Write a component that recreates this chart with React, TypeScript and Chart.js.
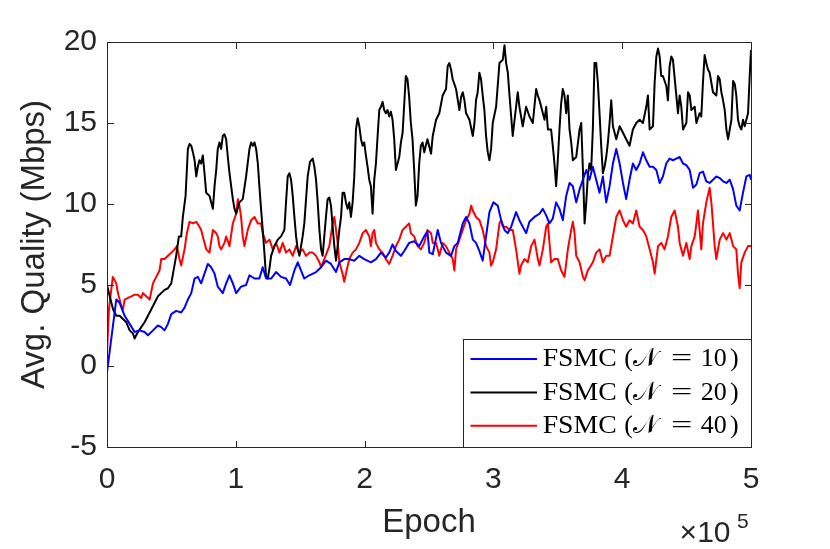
import React, { useEffect, useRef } from "react";
import { Chart, registerables } from "chart.js";

Chart.register(...registerables);

// ---- data: [epoch in thousands, avg. quality in Mbps] ----
const blueSeries: [number, number][] = [
  [0, -0.4], [7.2, 4.1], [9.8, 3.9], [13.7, 3.1], [17.6, 2.6], [21.4, 2.1], [25.3, 2.2], [29.2, 2.1], [31.8, 1.9],
  [35.7, 2.2], [39.5, 2.5], [42.1, 2.4], [44.7, 2.2], [47.3, 2.6], [49.9, 3.2], [53.7, 3.4], [57.6, 3.3], [60.2, 3.6],
  [62.8, 4.1], [65.4, 4.5], [68.0, 5.4], [70.5, 5.5], [73.1, 5.1], [75.7, 5.7], [78.3, 6.3], [80.9, 6.1], [83.5, 5.7],
  [86.0, 4.9], [89.9, 4.5], [92.5, 5.1], [95.1, 5.6], [97.7, 5.1], [100.3, 4.5], [104.1, 4.9], [108.0, 5.0], [110.6, 5.6],
  [114.5, 5.4], [118.3, 5.4], [120.9, 6.1], [123.5, 5.4], [127.4, 5.4], [131.3, 5.8], [135.1, 5.5], [139.0, 5.4],
  [142.1, 5.0], [145.5, 5.9], [148.1, 6.4], [150.6, 5.9], [153.2, 5.4], [157.1, 5.6], [162.3, 5.8], [166.2, 6.1],
  [170.0, 6.5], [173.9, 6.3], [177.8, 5.8], [180.4, 6.4], [184.2, 6.6], [188.1, 6.6], [192.0, 6.5], [195.9, 6.8],
  [199.7, 6.6], [204.9, 6.4], [208.8, 6.6], [212.7, 7.0], [216.5, 6.7], [219.1, 7.0], [221.7, 7.5], [224.3, 7.1],
  [228.2, 6.8], [230.8, 7.1], [234.6, 7.6], [238.5, 7.7], [242.4, 7.4], [246.3, 8.0], [248.8, 8.3], [250.3, 7.0],
  [252.9, 6.9], [256.8, 8.4], [259.3, 7.6], [263.2, 7.0], [267.1, 6.8], [269.7, 7.4], [272.3, 7.6], [276.2, 8.8],
  [278.8, 9.2], [281.4, 8.8], [284.0, 7.8], [286.5, 7.6], [289.1, 7.1], [291.7, 6.5], [294.3, 8.0], [296.9, 9.5],
  [300.0, 10.1], [303.4, 9.9], [306.0, 9.0], [308.6, 8.4], [311.2, 8.2], [313.8, 8.6], [317.6, 9.5], [320.2, 9.0],
  [322.8, 8.6], [325.4, 8.2], [328.0, 8.9], [331.9, 9.2], [335.8, 9.4], [338.4, 9.7], [341.0, 9.3], [343.5, 8.8],
  [346.1, 9.1], [348.7, 10.1], [351.3, 9.7], [353.9, 9.0], [356.5, 10.5], [359.1, 11.3], [361.7, 11.1], [364.3, 10.1],
  [366.9, 10.9], [369.5, 11.5], [372.1, 12.1], [374.6, 11.5], [377.2, 12.3], [379.8, 11.5], [382.4, 10.7], [385.0, 11.7],
  [387.6, 10.1], [390.2, 11.1], [392.8, 12.5], [395.4, 13.4], [398.0, 12.5], [400.6, 11.3], [403.1, 10.3], [405.7, 11.5],
  [408.3, 12.5], [410.9, 12.1], [413.5, 12.5], [416.1, 13.2], [418.7, 12.7], [421.3, 12.3], [423.9, 12.3], [426.5, 12.1],
  [429.1, 11.3], [431.6, 11.7], [434.2, 12.5], [436.8, 12.8], [439.4, 12.7], [442.0, 12.8], [444.6, 12.9], [447.2, 12.5],
  [449.8, 12.4], [452.4, 12.1], [455.0, 11.0], [457.6, 11.2], [460.1, 11.9], [462.7, 12.0], [465.3, 11.4], [467.9, 11.3],
  [470.5, 11.5], [473.1, 11.7], [475.7, 11.6], [478.3, 11.4], [480.9, 11.3], [483.5, 11.5], [486.1, 10.9], [488.6, 9.9],
  [491.2, 9.6], [493.8, 10.7], [496.4, 11.7], [499.0, 11.8], [500.0, 11.5],
];

const blackSeries: [number, number][] = [
  [0, 5.0], [2.1, 4.3], [4.7, 3.5], [7.2, 3.1], [9.8, 3.1], [12.4, 2.9], [15.0, 2.7], [17.6, 2.2], [20.2, 2.0], [21.4, 1.7],
  [24.0, 2.1], [26.6, 2.4], [29.2, 2.7], [31.8, 3.1], [34.4, 3.5], [37.0, 3.9], [39.5, 4.3], [42.1, 4.5], [44.7, 4.7],
  [47.3, 4.8], [49.9, 5.1], [51.7, 5.9], [53.7, 6.8], [55.8, 8.0], [57.6, 8.0], [58.9, 9.2], [61.0, 10.5], [62.8, 13.4],
  [64.1, 13.7], [65.4, 13.6], [66.7, 13.2], [68.0, 12.7], [69.3, 11.7], [70.5, 12.3], [71.8, 12.7], [73.1, 12.5],
  [74.4, 13.0], [75.7, 11.9], [77.0, 10.7], [79.6, 10.5], [82.2, 9.7], [83.5, 11.1], [84.8, 12.1], [86.0, 13.4],
  [87.3, 13.8], [88.6, 13.4], [89.9, 14.2], [91.2, 14.3], [92.5, 14.0], [93.8, 12.9], [95.1, 11.9], [96.4, 11.1],
  [97.7, 10.3], [99.0, 9.7], [100.3, 9.4], [102.8, 10.1], [105.4, 10.3], [108.0, 11.7], [110.6, 13.4], [111.9, 13.8],
  [113.2, 13.6], [114.5, 13.8], [115.8, 13.4], [117.1, 12.5], [118.3, 11.1], [119.6, 9.7], [120.9, 8.4], [122.2, 7.0],
  [123.5, 5.5], [124.8, 5.4], [126.1, 6.0], [127.4, 6.8], [130.0, 7.4], [132.6, 7.8], [135.1, 8.0], [137.7, 8.4],
  [139.0, 10.1], [140.3, 11.7], [141.6, 11.9], [142.9, 11.5], [144.2, 10.5], [145.5, 9.2], [146.8, 8.0], [148.1, 7.2],
  [149.4, 6.8], [151.9, 8.0], [153.2, 8.8], [155.8, 11.7], [157.6, 12.6], [159.7, 12.8], [161.0, 12.3], [162.3, 11.5],
  [163.6, 10.1], [164.9, 8.4], [166.2, 7.2], [167.4, 6.8], [168.7, 8.0], [170.0, 9.2], [171.3, 10.3], [172.6, 10.4],
  [173.9, 9.9], [175.2, 8.6], [176.5, 7.4], [177.8, 6.5], [179.1, 7.4], [180.4, 8.4], [181.7, 9.2], [182.9, 10.7],
  [184.2, 10.7], [185.5, 10.1], [186.8, 9.7], [188.1, 10.1], [189.4, 9.2], [190.7, 10.1], [192.0, 11.7], [193.3, 14.6],
  [194.6, 15.3], [195.9, 14.8], [197.2, 14.0], [198.5, 13.6], [199.7, 13.8], [201.0, 13.0], [202.3, 12.3], [203.6, 11.5],
  [204.9, 11.1], [206.2, 9.4], [207.5, 11.5], [208.8, 12.5], [210.1, 14.2], [211.4, 15.8], [212.7, 16.0], [214.0, 16.3],
  [215.2, 15.8], [216.5, 15.6], [217.8, 15.8], [219.1, 15.4], [220.4, 15.7], [221.7, 15.2], [223.0, 14.0], [224.3, 12.1],
  [225.6, 12.5], [226.9, 12.9], [228.2, 13.8], [229.5, 14.4], [230.8, 16.2], [232.0, 17.9], [233.3, 17.7], [234.6, 16.6],
  [235.9, 15.0], [237.2, 14.0], [238.5, 12.1], [239.8, 9.9], [241.1, 10.5], [242.4, 12.5], [243.7, 13.6], [245.0, 13.8],
  [246.3, 13.2], [247.5, 13.6], [248.8, 14.0], [251.6, 13.1], [252.9, 14.2], [255.5, 15.2], [258.0, 15.6], [260.6, 16.7],
  [263.2, 17.1], [264.5, 18.5], [265.8, 18.7], [267.1, 18.3], [268.4, 17.7], [271.0, 17.1], [273.6, 15.8], [274.9, 16.6],
  [276.2, 16.9], [277.5, 16.4], [278.8, 15.6], [280.1, 15.4], [281.4, 15.2], [284.0, 14.2], [285.3, 15.0], [286.5, 16.4],
  [287.8, 16.9], [289.1, 18.1], [290.4, 17.7], [291.7, 16.7], [293.0, 15.8], [294.3, 14.2], [295.6, 13.2], [296.9, 12.7],
  [298.2, 13.4], [299.5, 15.0], [302.1, 16.0], [304.7, 18.7], [307.3, 18.9], [308.6, 19.8], [309.9, 18.7], [311.2, 18.1],
  [312.5, 16.7], [313.8, 15.4], [315.0, 14.2], [317.6, 16.0], [318.9, 16.9], [320.2, 16.0], [321.5, 15.4], [322.8, 14.8],
  [325.4, 16.0], [328.0, 15.4], [330.6, 15.0], [333.2, 17.1], [334.5, 16.7], [335.8, 16.4], [338.4, 15.6], [339.7, 15.2],
  [341.0, 16.0], [342.3, 14.6], [344.8, 14.6], [346.1, 13.6], [347.4, 12.5], [348.7, 11.1], [350.0, 12.7], [351.3, 14.6],
  [352.6, 16.2], [353.9, 17.1], [355.2, 16.7], [356.5, 15.6], [357.8, 16.7], [359.1, 14.6], [360.4, 13.8], [361.7, 12.7],
  [364.3, 12.9], [366.9, 14.6], [368.2, 15.0], [369.5, 12.1], [370.8, 8.8], [372.1, 10.1], [373.3, 11.7], [374.6, 12.5],
  [375.9, 12.1], [377.2, 14.6], [378.5, 18.7], [379.8, 18.7], [381.1, 17.5], [382.4, 15.6], [383.7, 13.6], [385.0, 11.9],
  [386.3, 12.3], [387.6, 12.9], [388.9, 13.8], [390.2, 15.0], [391.5, 16.4], [392.8, 14.8], [395.4, 14.0], [398.0, 14.8],
  [400.6, 14.4], [403.1, 14.0], [405.7, 13.6], [408.3, 14.6], [410.9, 15.0], [413.5, 15.2], [416.1, 15.0], [418.7, 16.0],
  [420.0, 16.7], [421.3, 14.6], [423.9, 14.8], [425.2, 17.5], [426.5, 19.1], [427.8, 19.6], [429.1, 19.1], [430.3, 17.9],
  [431.6, 17.9], [434.2, 17.3], [435.5, 16.4], [436.8, 18.5], [438.1, 19.1], [439.4, 18.9], [442.0, 16.7], [443.3, 15.6],
  [444.6, 16.7], [445.9, 16.0], [447.2, 14.6], [449.8, 15.0], [451.1, 16.9], [452.4, 16.7], [453.7, 15.8], [456.3, 16.0],
  [457.6, 15.0], [460.1, 15.6], [461.4, 15.4], [462.7, 17.5], [464.0, 19.2], [465.3, 18.7], [466.6, 18.3], [467.9, 18.1],
  [470.5, 16.9], [473.1, 16.7], [474.4, 17.9], [475.7, 17.7], [477.0, 16.9], [478.3, 16.4], [479.6, 15.8], [480.9, 14.6],
  [482.2, 14.0], [483.5, 14.6], [484.8, 15.2], [486.1, 17.6], [487.4, 17.4], [488.6, 16.7], [489.9, 15.2], [491.2, 14.8],
  [492.5, 14.6], [493.8, 15.2], [495.1, 14.8], [497.7, 15.6], [499.0, 17.9], [500.0, 19.5],
];

const redSeries: [number, number][] = [
  [0, 0.8], [1.5, 3.5], [4.5, 5.5], [7.2, 5.1], [8.5, 4.5], [9.8, 4.1], [11.1, 3.7], [12.4, 3.5], [13.7, 4.1], [16.3, 4.2],
  [18.9, 4.3], [21.4, 4.4], [24.0, 4.4], [26.6, 4.2], [27.9, 4.5], [30.5, 4.3], [33.1, 4.1], [35.7, 5.1], [38.2, 5.5],
  [40.8, 5.9], [42.1, 6.6], [44.7, 6.6], [47.3, 6.8], [49.9, 7.0], [52.5, 7.2], [54.3, 7.4], [56.3, 6.6], [57.6, 6.2],
  [60.2, 7.2], [62.0, 8.2], [64.1, 8.9], [66.7, 8.8], [69.3, 8.9], [71.8, 8.6], [73.1, 8.4], [74.4, 8.0], [77.0, 7.2],
  [79.6, 7.0], [82.2, 8.4], [84.8, 8.2], [86.0, 8.0], [87.3, 7.4], [88.6, 7.2], [91.2, 7.6], [92.5, 8.0], [95.1, 7.4],
  [97.7, 8.8], [100.3, 9.4], [101.6, 10.3], [102.8, 9.9], [104.1, 9.2], [105.4, 8.0], [106.7, 7.4], [109.3, 8.4],
  [111.9, 9.0], [114.5, 9.2], [117.1, 8.8], [119.6, 8.8], [120.9, 8.2], [123.5, 7.6], [126.1, 7.8], [128.7, 7.2],
  [131.3, 7.6], [133.9, 7.0], [136.4, 7.6], [139.0, 7.0], [141.6, 7.2], [144.2, 6.8], [146.8, 7.4], [149.4, 7.0],
  [151.9, 7.2], [154.5, 6.8], [157.1, 7.0], [159.7, 7.0], [162.3, 6.8], [164.9, 6.4], [166.2, 6.1], [168.7, 6.6],
  [172.6, 7.4], [175.2, 8.8], [176.5, 9.2], [177.8, 8.4], [179.1, 7.6], [180.4, 6.4], [182.9, 5.7], [184.2, 5.2],
  [185.5, 5.7], [188.1, 6.6], [190.7, 7.0], [193.3, 7.2], [195.9, 7.6], [198.5, 8.2], [201.0, 8.4], [203.6, 8.0],
  [204.9, 7.4], [206.2, 8.2], [207.5, 8.4], [208.8, 7.6], [211.4, 7.2], [214.0, 7.0], [216.5, 6.6], [219.1, 6.3],
  [221.7, 6.8], [224.3, 7.4], [226.9, 7.8], [229.5, 8.4], [232.0, 8.6], [234.6, 8.8], [235.9, 8.2], [238.5, 8.0],
  [241.1, 7.4], [243.7, 7.2], [246.3, 7.6], [248.8, 8.4], [251.6, 8.2], [252.9, 7.6], [255.5, 7.6], [258.0, 6.8],
  [260.6, 7.6], [263.2, 7.4], [265.8, 7.0], [268.4, 6.6], [269.7, 5.9], [271.0, 7.2], [273.6, 7.8], [276.2, 8.4],
  [278.8, 9.0], [281.4, 9.4], [282.7, 9.9], [284.0, 9.6], [286.5, 9.2], [289.1, 9.0], [291.7, 8.4], [294.3, 7.4],
  [296.9, 7.0], [298.2, 6.2], [299.5, 6.4], [302.1, 7.2], [304.7, 8.8], [306.0, 9.0], [307.3, 8.6], [309.9, 8.6],
  [312.5, 8.4], [315.0, 8.4], [317.6, 7.2], [320.2, 5.7], [321.5, 6.2], [324.1, 6.6], [326.7, 6.4], [329.3, 7.4],
  [331.9, 7.8], [334.5, 6.6], [335.8, 6.2], [338.4, 7.2], [341.0, 8.6], [342.3, 8.8], [344.8, 6.4], [347.4, 6.6],
  [350.0, 6.6], [352.6, 5.9], [355.2, 5.5], [357.8, 7.2], [360.4, 8.4], [361.7, 8.9], [363.0, 8.2], [364.3, 6.8],
  [366.9, 6.4], [369.5, 5.5], [370.8, 5.3], [373.3, 5.9], [377.2, 6.4], [379.8, 7.0], [382.4, 7.2], [385.0, 6.4],
  [387.6, 6.8], [390.2, 6.8], [392.8, 8.0], [395.4, 9.2], [398.0, 9.6], [400.6, 9.0], [403.1, 8.6], [405.7, 9.0],
  [408.3, 8.8], [410.9, 9.6], [413.5, 8.6], [416.1, 8.4], [418.7, 8.0], [421.3, 7.2], [423.9, 6.4], [425.2, 5.7],
  [427.8, 7.4], [430.3, 7.6], [432.9, 7.2], [435.5, 8.0], [438.1, 9.2], [440.7, 9.6], [443.3, 8.6], [444.6, 7.6],
  [447.2, 6.8], [449.8, 7.6], [452.4, 6.6], [453.7, 7.4], [456.3, 8.0], [457.6, 8.8], [458.8, 9.6], [460.1, 8.4],
  [461.4, 7.2], [462.7, 8.8], [465.3, 10.1], [467.9, 11.0], [469.2, 10.1], [470.5, 8.8], [471.8, 7.4], [473.1, 6.6],
  [475.7, 7.8], [478.3, 8.2], [480.9, 7.8], [483.5, 8.2], [486.1, 7.4], [488.6, 7.2], [489.9, 5.7], [491.2, 4.8],
  [492.5, 6.4], [495.1, 7.0], [497.7, 7.4], [500.0, 7.4],
];

const seriesStates = ["10", "20", "40"];
const seriesColors = ["#0000ff", "#000000", "#ff0000"];
const xTicks = [0, 1, 2, 3, 4, 5]; // in units of 1e5 epochs
const yTicks = [-5, 0, 5, 10, 15, 20];

const AXIS_COLOR = "#262626";
const SANS = "'Liberation Sans', Arial, Helvetica, sans-serif";
const SERIF = "'Liberation Serif', 'DejaVu Serif', serif";

const toPoints = (s: [number, number][]) => s.map(([k, v]) => ({ x: k * 1000, y: v }));

const boxPlugin = {
  id: "matlabBox",
  afterDatasetsDraw(chart: any) {
    const { ctx, chartArea: a, scales } = chart;
    const l = Math.round(a.left) + 0.5;
    const r = Math.round(a.right) + 0.5;
    const t = Math.round(a.top) + 0.5;
    const b = Math.round(a.bottom) + 0.5;
    ctx.save();
    ctx.strokeStyle = AXIS_COLOR;
    ctx.lineWidth = 1;
    ctx.strokeRect(l, t, r - l, b - t);
    const tl = 6.5;
    ctx.beginPath();
    scales.x.ticks.forEach((tk: any) => {
      const px = Math.round(scales.x.getPixelForValue(tk.value)) + 0.5;
      ctx.moveTo(px, b);
      ctx.lineTo(px, b - tl);
      ctx.moveTo(px, t);
      ctx.lineTo(px, t + tl);
    });
    scales.y.ticks.forEach((tk: any) => {
      const py = Math.round(scales.y.getPixelForValue(tk.value)) + 0.5;
      ctx.moveTo(l, py);
      ctx.lineTo(l + tl, py);
      ctx.moveTo(r, py);
      ctx.lineTo(r - tl, py);
    });
    ctx.stroke();
    ctx.restore();
  },
  afterDraw(chart: any) {
    const { ctx, chartArea: a } = chart;
    ctx.save();
    // exponent label
    ctx.fillStyle = AXIS_COLOR;
    ctx.textBaseline = "alphabetic";
    ctx.textAlign = "right";
    ctx.font = `30px ${SANS}`;
    ctx.fillText("\u00d710", a.right - 20.5, a.bottom + 94.5);
    ctx.textAlign = "left";
    ctx.font = `21px ${SANS}`;
    ctx.fillText("5", a.right - 14, a.bottom + 81);

    // legend
    const w = 288;
    const h = 108;
    const L = Math.round(a.right - w) + 0.5;
    const T = Math.round(a.bottom - h) + 0.5;
    ctx.fillStyle = "#ffffff";
    ctx.fillRect(L, T, w, h);
    ctx.strokeStyle = AXIS_COLOR;
    ctx.lineWidth = 1;
    ctx.strokeRect(L, T, w, h);
    seriesStates.forEach((st, i) => {
      const cy = T + 19.5 + i * 33.4;
      ctx.strokeStyle = seriesColors[i];
      ctx.lineWidth = 2;
      ctx.beginPath();
      ctx.moveTo(L + 7, cy);
      ctx.lineTo(L + 73.5, cy);
      ctx.stroke();
      const base = cy + 7.2;
      ctx.fillStyle = "#000000";
      ctx.font = `26px ${SERIF}`;
      ctx.textAlign = "left";
      // "FSMC" (widened to match the Computer Modern width)
      ctx.save();
      ctx.translate(L + 79.2, base);
      ctx.scale(1.066, 1);
      ctx.fillText("FSMC", 0, 0);
      ctx.restore();
      ctx.fillText("(", L + 160.8, base);
      ctx.font = `26px ${SERIF}`;
      ctx.fillText("\u{1D4A9}", L + 169.8, base);
      ctx.textAlign = "center";
      ctx.save();
      ctx.translate(L + 218.2, base);
      ctx.scale(1.45, 1);
      ctx.fillText("=", 0, 0);
      ctx.restore();
      ctx.textAlign = "left";
      ctx.fillText(st, L + 237.2, base);
      ctx.fillText(")", L + 266.5, base);
    });
    ctx.restore();
  },
};

export default function App() {
  const canvasRef = useRef<HTMLCanvasElement | null>(null);

  useEffect(() => {
    if (!canvasRef.current) return;
    const chart = new Chart(canvasRef.current, {
      type: "line",
      data: {
        datasets: [blueSeries, blackSeries, redSeries].map((s, i) => ({
          label: `FSMC (N = ${seriesStates[i]})`,
          data: toPoints(s),
          borderColor: seriesColors[i],
          backgroundColor: seriesColors[i],
          borderWidth: 2,
          pointRadius: 0,
          tension: 0,
          fill: false,
          borderJoinStyle: "round" as const,
        })),
      },
      options: {
        animation: false,
        responsive: false,
        devicePixelRatio: 1,
        layout: { padding: { left: 0, right: 79, top: 42, bottom: 0 } },
        plugins: { legend: { display: false }, tooltip: { enabled: false } },
        scales: {
          x: {
            type: "linear",
            min: xTicks[0] * 1e5,
            max: xTicks[xTicks.length - 1] * 1e5,
            afterFit: (s: any) => {
              s.height = 102;
            },
            afterBuildTicks: (s: any) => {
              s.ticks = xTicks.map((v) => ({ value: v * 1e5 }));
            },
            grid: { display: false, drawTicks: false },
            border: { display: false },
            ticks: {
              callback: (v: any) => String(Number(v) / 1e5),
              font: { family: SANS, size: 30 },
              color: AXIS_COLOR,
              padding: 15,
              maxRotation: 0,
              autoSkip: false,
            },
            title: {
              display: true,
              text: "Epoch",
              font: { family: SANS, size: 33 },
              color: AXIS_COLOR,
              padding: { top: 0, bottom: 6 },
            },
          },
          y: {
            type: "linear",
            min: yTicks[0],
            max: yTicks[yTicks.length - 1],
            afterFit: (s: any) => {
              s.width = 107;
            },
            afterBuildTicks: (s: any) => {
              s.ticks = yTicks.map((v) => ({ value: v }));
            },
            grid: { display: false, drawTicks: false },
            border: { display: false },
            ticks: {
              font: { family: SANS, size: 30 },
              color: AXIS_COLOR,
              padding: 10,
              autoSkip: false,
            },
            title: {
              display: true,
              text: "Avg. Quality (Mbps)",
              font: { family: SANS, size: 33 },
              color: AXIS_COLOR,
              padding: { top: 15, bottom: 0 },
            },
          },
        },
      },
      plugins: [boxPlugin],
    });
    return () => chart.destroy();
  }, []);

  return (
    <div style={{ position: "absolute", left: 0, top: 0, width: 830, height: 549, background: "#fff" }}>
      <canvas ref={canvasRef} width={830} height={549} style={{ display: "block" }} />
    </div>
  );
}
